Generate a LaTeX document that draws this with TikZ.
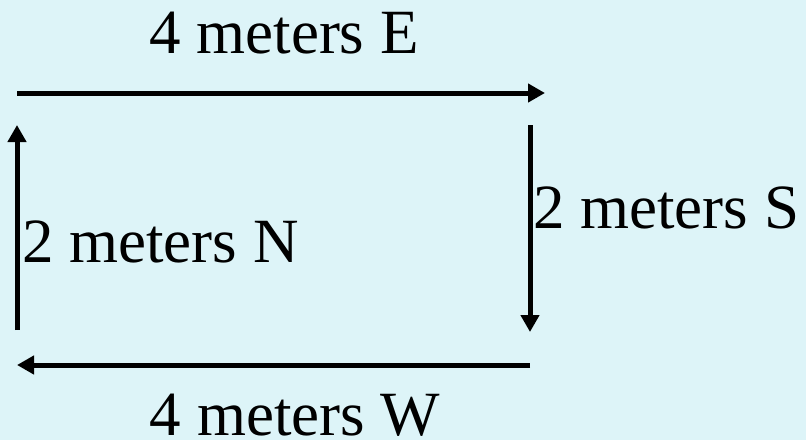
\documentclass[tikz,border=0pt]{standalone}
\usepackage{fontspec}
\setmainfont{LiberationSerif}[Extension=.ttf, UprightFont=*-Regular, BoldFont=*-Bold]
\usepackage{tikz}
\usetikzlibrary{arrows.meta, positioning}
\definecolor{skycyan}{RGB}{221,244,248}

\begin{document}
\begin{tikzpicture}[x=1pt, y=-1pt,
    leg/.style={-{Triangle[length=17pt, width=18pt]}, line width=5pt, line cap=butt},
    lbl/.style={inner sep=0pt, font=\fontsize{63}{70}\selectfont}]

%% Background and page size
\fill[skycyan] (0,0) rectangle (806,440);
\useasboundingbox (0,0) rectangle (806,440);

%% Ends of the four legs
\coordinate (eStart) at (17,93);   \coordinate (eEnd) at (545,93);
\coordinate (sStart) at (530,125); \coordinate (sEnd) at (530,332);
\coordinate (wStart) at (530,365); \coordinate (wEnd) at (17,365);
\coordinate (nStart) at (17,330);  \coordinate (nEnd) at (17,125);

%% Legs of the walk
\draw[leg] (eStart) -- (eEnd);
\draw[leg] (sStart) -- (sEnd);
\draw[leg] (wStart) -- (wEnd);
\draw[leg] (nStart) -- (nEnd);

%% Labels
\node[lbl, anchor=base]      (east)  at (284,53)  {4 meters E};
\node[lbl, anchor=base west] (south) at (533,228) {2 meters S};
\node[lbl, anchor=base]      (west)  at (295,435) {4 meters W};
\node[lbl, anchor=base west] (north) at (22,262)  {2 meters N};

\end{tikzpicture}
\end{document}
